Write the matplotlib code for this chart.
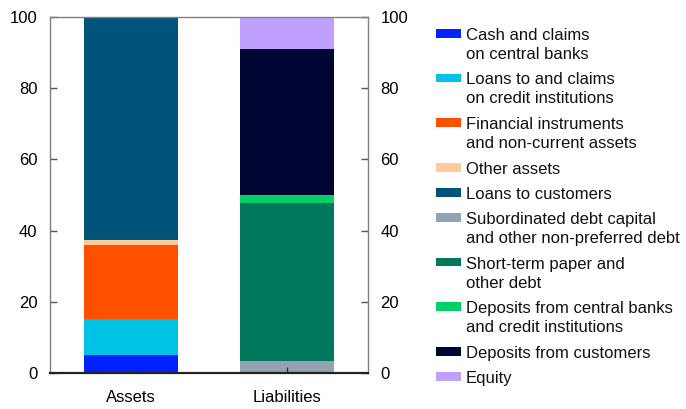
import matplotlib
matplotlib.use("Agg")
import matplotlib.pyplot as plt
from matplotlib.patches import Rectangle

plt.rcParams['font.family'] = ['Liberation Sans', 'DejaVu Sans']

categories = ['Assets', 'Liabilities']

asset_labels = ['Cash and claims\non central banks',
                'Loans to and claims\non credit institutions',
                'Financial instruments\nand non-current assets',
                'Other assets',
                'Loans to customers']
asset_values = [5.0, 10.1, 20.8, 1.5, 62.6]
asset_colors = ['#0022FF', '#00C2E4', '#FF5000', '#FFCB9A', '#005479']

liability_labels = ['Subordinated debt capital\nand other non-preferred debt',
                    'Short-term paper and\nother debt',
                    'Deposits from central banks\nand credit institutions',
                    'Deposits from customers',
                    'Equity']
liability_values = [3.3, 44.5, 2.2, 40.9, 9.1]
liability_colors = ['#94A3B2', '#00785E', '#00D066', '#000633', '#C0A0FF']

yticks = [0, 20, 40, 60, 80, 100]

W, H = 686, 409
fig = plt.figure(figsize=(W / 100, H / 100), dpi=100)
ax = fig.add_axes([50 / W, (H - 373) / H, (368 - 50) / W, (373 - 17) / H])

for xi, (vals, cols) in enumerate([(asset_values, asset_colors),
                                   (liability_values, liability_colors)]):
    bottom = 0.0
    for v, c in zip(vals, cols):
        ax.bar(xi, v, bottom=bottom, width=0.6, color=c, linewidth=0)
        bottom += v

ax.set_xlim(-0.52, 1.52)
ax.set_ylim(0, 100)
ax.set_xticks(range(len(categories)))
ax.set_xticklabels(categories)
ax.set_yticks(yticks)
ax.tick_params(axis='y', direction='in', length=5, width=1, color='#555555',
               labelsize=12, pad=9, left=True, right=True,
               labelleft=True, labelright=True)
ax.tick_params(axis='x', direction='in', length=4.5, width=1, color='#333333',
               labelsize=12, pad=12)
for s in ['left', 'top', 'right']:
    ax.spines[s].set_color('#808080')
    ax.spines[s].set_linewidth(1)
ax.spines['bottom'].set_color('#222222')
ax.spines['bottom'].set_linewidth(1.6)

# legend
all_labels = asset_labels + liability_labels
all_colors = asset_colors + liability_colors
line_h = 19.7
gap = 5.3
yc = 33.2
for lab, col in zip(all_labels, all_colors):
    nlines = lab.count('\n') + 1
    fig.add_artist(Rectangle((436 / W, (H - yc - 4.3) / H), 25 / W, 8.6 / H,
                             transform=fig.transFigure, color=col, linewidth=0))
    fig.text(466 / W, (H - yc + 5.4) / H, lab, fontsize=12, va='top',
             ha='left', linespacing=1.33, color='#111111')
    yc += nlines * line_h + gap

fig.savefig('out.png', dpi=100)
